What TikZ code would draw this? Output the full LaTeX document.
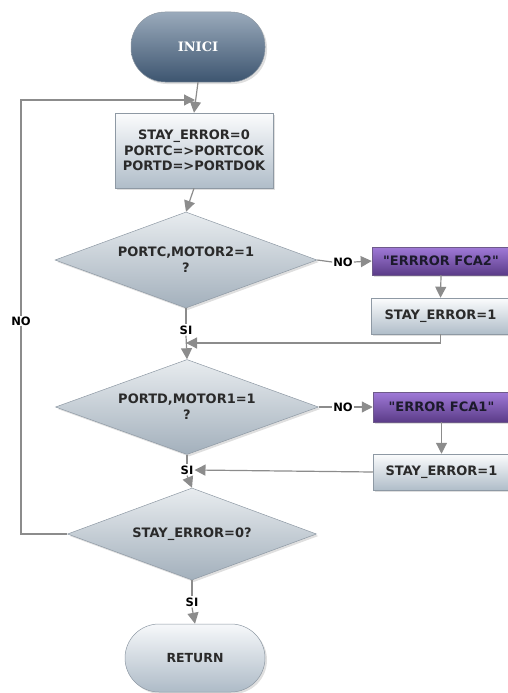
\documentclass[tikz,border=0pt]{standalone}
\usepackage{fontspec}
\setmainfont{DejaVu Sans}[Ligatures=TeXOff]
\newfontfamily\titlefont{DejaVu Serif}
\usetikzlibrary{shapes.geometric, arrows.meta, shadows}

\definecolor{linegray}{HTML}{8C8C8C}
\definecolor{edgegray}{HTML}{8E99A4}
\definecolor{textdark}{HTML}{2A2A2A}
\definecolor{darktop}{HTML}{9AAABB}
\definecolor{darkbot}{HTML}{3D5570}
\definecolor{lighttop}{HTML}{F6F8FA}
\definecolor{lightbot}{HTML}{AEBBC7}
\definecolor{boxtop}{HTML}{FBFCFD}
\definecolor{boxbot}{HTML}{B0BDC9}
\definecolor{purpleedge}{HTML}{6E5A8A}
\definecolor{purpletop}{HTML}{A07AD8}
\definecolor{purplebot}{HTML}{5B3C88}
\definecolor{purpletext}{HTML}{1C1A2C}
\definecolor{diatop}{HTML}{E8ECEF}
\definecolor{diabot}{HTML}{A3B0BC}

\tikzset{
  softshadow/.style={drop shadow={opacity=0.25, shadow xshift=2pt, shadow yshift=-2pt}},
  startend/.style={rectangle, rounded corners=34pt, draw=edgegray, line width=0.5pt,
    inner sep=0pt, softshadow},
  termdark/.style={startend, top color=darktop, bottom color=darkbot,
    text=white, font=\titlefont\bfseries\fontsize{13}{15}\selectfont},
  termlight/.style={startend, top color=lighttop, bottom color=lightbot,
    text=textdark, font=\bfseries\fontsize{12.5}{15}\selectfont},
  procbox/.style={rectangle, draw=edgegray, line width=0.5pt, inner sep=0pt,
    top color=boxtop, bottom color=boxbot, text=textdark,
    align=center, font=\bfseries\fontsize{13}{15.5}\selectfont, softshadow},
  msgbox/.style={rectangle, draw=purpleedge, line width=0.5pt, inner sep=0pt,
    top color=purpletop, bottom color=purplebot, text=purpletext,
    font=\bfseries\fontsize{13}{15}\selectfont, softshadow},
  decision/.style={diamond, draw=edgegray, line width=0.5pt, inner sep=0pt, aspect=2.7,
    top color=diatop, bottom color=diabot, text=textdark,
    align=center, font=\bfseries\fontsize{13}{16}\selectfont, softshadow},
  lbl/.style={inner sep=1pt, fill=white, text=black, font=\bfseries\fontsize{11.5}{13}\selectfont},
  conn/.style={draw=linegray, line width=1.2pt},
  arr/.style={conn, -{Triangle[width=11pt,length=11pt]}},
}

\begin{document}
\begin{tikzpicture}[x=1pt, y=-1pt]
  \useasboundingbox (0,0) rectangle (507,693);

  % terminals
  \node[termdark, minimum width=134pt, minimum height=70pt] (inici) at (198,47) {INICI};
  \node[termlight, minimum width=140pt, minimum height=68pt] (ret) at (195,658) {RETURN};

  % initialisation
  \node[procbox, minimum width=158pt, minimum height=75pt] (init) at (194,150.5)
    {STAY\_ERROR=0\\PORTC=>PORTCOK\\PORTD=>PORTDOK};

  % decisions
  \node[decision, minimum width=262pt, minimum height=96pt] (d1) at (186,260) {PORTC,MOTOR2=1\\?};
  \node[decision, minimum width=263pt, minimum height=95pt] (d2) at (187,407) {PORTD,MOTOR1=1\\?};
  \node[decision, minimum width=249pt, minimum height=92pt] (d3) at (192,534) {STAY\_ERROR=0?};

  % error branches
  \node[msgbox, minimum width=138pt, minimum height=28pt] (m1) at (441,261) {"ERRROR FCA2"};
  \node[procbox, minimum width=139pt, minimum height=36pt] (s1) at (440.5,316) {STAY\_ERROR=1};
  \node[msgbox, minimum width=137pt, minimum height=30pt] (m2) at (441.5,407) {"ERROR FCA1"};
  \node[procbox, minimum width=137pt, minimum height=36pt] (s2) at (441.5,472) {STAY\_ERROR=1};

  % branch labels
  \node[lbl] (no1) at (343,262) {NO};
  \node[lbl] (no2) at (343,407) {NO};
  \node[lbl] (si1) at (186,330) {SI};
  \node[lbl] (si2) at (187,470) {SI};
  \node[lbl] (si3) at (192,602) {SI};

  % loop-back helpers
  \coordinate (join) at (195,100);
  \coordinate (loopL) at (21,100);
  \coordinate (merge1) at (186,343);

  % main column
  \draw[arr] (inici.south) -- (init.north);
  \draw[arr] (init.south) -- (d1.north);
  \draw[conn] (d1.south) -- (si1.north);
  \draw[arr] (si1.south) -- (d2.north);
  \draw[conn] (d2.south) -- (si2.north);
  \draw[arr] (si2.south) -- (d3.north);
  \draw[conn] (d3.south) -- (si3.north);
  \draw[arr] (si3.south) -- (ret.north);

  % first error branch
  \draw[conn] (d1.east) -- (no1.west);
  \draw[arr] (no1.east) -- (m1.west);
  \draw[arr] (m1.south) -- (s1.north);
  \draw[arr] (s1.south) |- (merge1);

  % second error branch
  \draw[conn] (d2.east) -- (no2.west);
  \draw[arr] (no2.east) -- (m2.west);
  \draw[arr] (m2.south) -- (s2.north);
  \draw[arr] (s2.west) -- (si2.east);

  % retry loop
  \draw[arr] (d3.west) -| (loopL) -- (join);
  \node[lbl] (no3) at (21,321) {NO};
\end{tikzpicture}
\end{document}
